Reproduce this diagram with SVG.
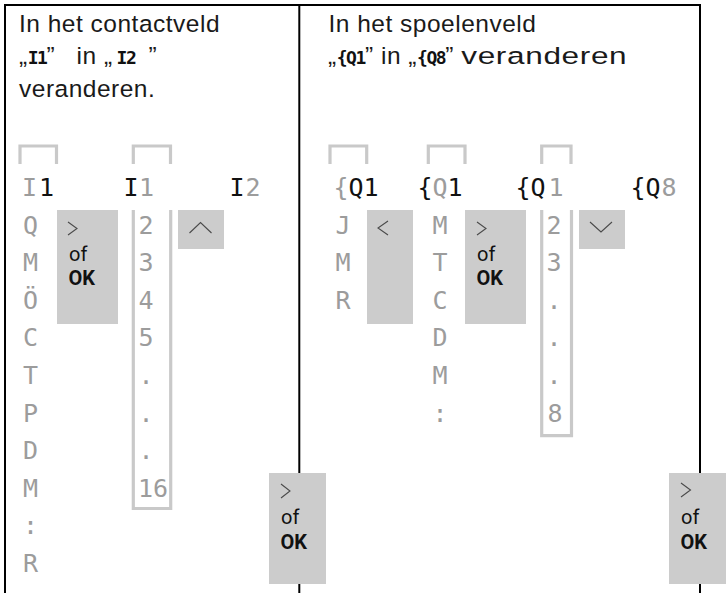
<svg xmlns="http://www.w3.org/2000/svg" width="726" height="595" viewBox="0 0 726 595">
<style>
.frame{stroke:#000;stroke-width:2;fill:none}
.br{stroke:#c9c9c9;stroke-width:3.2;fill:none}
.key{fill:#cccccc}
.hd{font-family:"Liberation Sans",Arial,sans-serif;font-size:24.5px;fill:#1a1a1a;letter-spacing:0.5px}
.hm{font-family:"DejaVu Sans Mono",monospace;font-size:18px;font-weight:bold;letter-spacing:-1.4px;fill:#111}
.lcd{font-family:"DejaVu Sans Mono",monospace;font-size:25px;text-anchor:middle}
.g{fill:#9c9c9c}
.k{fill:#111}
.lbl{font-family:Roboto,"Liberation Sans",sans-serif;font-size:20px;fill:#111}
.b{font-weight:bold}
.chl{stroke:#4a4a4a;stroke-width:1.1;fill:none}
</style>

<g id="frame">
  <line class="frame" x1="4" y1="5" x2="701" y2="5"/>
  <line class="frame" x1="5" y1="4" x2="5" y2="593"/>
  <line class="frame" x1="299.3" y1="5" x2="299.3" y2="593"/>
  <line class="frame" x1="700" y1="4" x2="700" y2="593"/>
</g>

<g id="header-left">
  <text class="hd" x="19" y="32">In het contactveld</text>
  <text class="hd" x="19" y="63.5">„<tspan class="hm">I1</tspan>”<tspan dx="14"> in</tspan> „<tspan class="hm" dx="4">I2</tspan><tspan dx="13">”</tspan></text>
  <text class="hd" x="19" y="97">veranderen.</text>
</g>

<g id="header-right">
  <text class="hd" x="328.5" y="32">In het spoelenveld</text>
  <text class="hd" x="328" y="63.5">„<tspan class="hm">{Q1</tspan>” in „<tspan class="hm">{Q8</tspan>” <tspan textLength="166" lengthAdjust="spacingAndGlyphs">veranderen</tspan></text>
</g>

<g id="brackets">
  <path class="br" d="M20 164 V146 H56.5 V164"/>
  <path class="br" d="M133.3 164 V146 H170.5 V164"/>
  <path class="br" d="M330 164 V146 H366.7 V164"/>
  <path class="br" d="M428.3 164 V146 H465 V164"/>
  <path class="br" d="M541.7 164 V146 H571 V164"/>
  <path class="br" d="M133.3 210 V508.5 H170.7 V210"/>
  <path class="br" d="M541.7 210 V435.7 H571.5 V210"/>
</g>

<g id="key-left-1">
  <rect class="key" x="57" y="210" width="61" height="114"/>
  <polyline class="chl" points="68,222 77,228.5 68,235"/>
  <text class="lbl" x="69" y="260.5">of</text>
  <text class="lbl b" x="68.5" y="284.5">OK</text>
</g>
<g id="key-left-up">
  <rect class="key" x="178" y="210" width="46" height="39"/>
  <polyline class="chl" points="189.5,233 200.5,222.5 211.5,233"/>
</g>
<g id="key-left-2">
  <rect class="key" x="269" y="473" width="57" height="111"/>
  <polyline class="chl" points="281,484 290,491 281,498"/>
  <text class="lbl" x="281" y="523.5">of</text>
  <text class="lbl b" x="280.5" y="549">OK</text>
</g>
<g id="key-right-left">
  <rect class="key" x="367" y="210" width="46" height="114"/>
  <polyline class="chl" points="388,221 378,228 388,235"/>
</g>
<g id="key-right-1">
  <rect class="key" x="465" y="210" width="61" height="114"/>
  <polyline class="chl" points="477,222 486,228.5 477,235"/>
  <text class="lbl" x="477" y="260.5">of</text>
  <text class="lbl b" x="476.5" y="284.5">OK</text>
</g>
<g id="key-right-down">
  <rect class="key" x="579" y="210" width="46" height="39"/>
  <polyline class="chl" points="590,222 601,232 612,222"/>
</g>
<g id="key-right-2">
  <rect class="key" x="669" y="473" width="57" height="111"/>
  <polyline class="chl" points="681,483 690.5,490 681,497"/>
  <text class="lbl" x="681" y="523.5">of</text>
  <text class="lbl b" x="680.5" y="549">OK</text>
</g>

<g id="contact-col-1">
  <text class="lcd" y="196"><tspan x="29.5" class="g">I</tspan><tspan x="46.5" class="k">1</tspan></text>
  <text class="lcd g" x="30.5 30.5 30.5 30.5 30.5 30.5 30.5 30.5 30.5 30.5" y="233.6 271.2 308.8 346.4 384 421.6 459.2 496.8 534.4 572">QMÖCTPDM:R</text>
</g>
<g id="contact-col-2">
  <text class="lcd" y="196"><tspan x="131" class="k">I</tspan><tspan x="146.5" class="g">1</tspan></text>
  <text class="lcd g" x="146 146 146 146 146 146 146" y="233.6 271.2 308.8 346.4 384 421.6 459.2">2345...</text>
  <text class="lcd g" x="153" y="496.8">16</text>
</g>
<g id="contact-col-3">
  <text class="lcd" y="196"><tspan x="237" class="k">I</tspan><tspan x="253" class="g">2</tspan></text>
</g>

<g id="coil-col-1">
  <text class="lcd" y="196"><tspan x="341" class="g">{</tspan><tspan x="356" class="k">Q</tspan><tspan x="371" class="k">1</tspan></text>
  <text class="lcd g" x="343 343 343" y="233.6 271.2 308.8">JMR</text>
</g>
<g id="coil-col-2">
  <text class="lcd" y="196"><tspan x="425" class="k">{</tspan><tspan x="440" class="g">Q</tspan><tspan x="455" class="k">1</tspan></text>
  <text class="lcd g" x="440 440 440 440 440 440" y="233.6 271.2 308.8 346.4 384 421.6">MTCDM:</text>
</g>
<g id="coil-col-3">
  <text class="lcd" y="196"><tspan x="523" class="k">{</tspan><tspan x="538" class="k">Q</tspan><tspan x="556" class="g">1</tspan></text>
  <text class="lcd g" x="554 554 554 554 554 555" y="233.6 271.2 308.8 346.4 384 421.6">23...8</text>
</g>
<g id="coil-col-4">
  <text class="lcd" y="196"><tspan x="638" class="k">{</tspan><tspan x="653" class="k">Q</tspan><tspan x="669" class="g">8</tspan></text>
</g>
</svg>
